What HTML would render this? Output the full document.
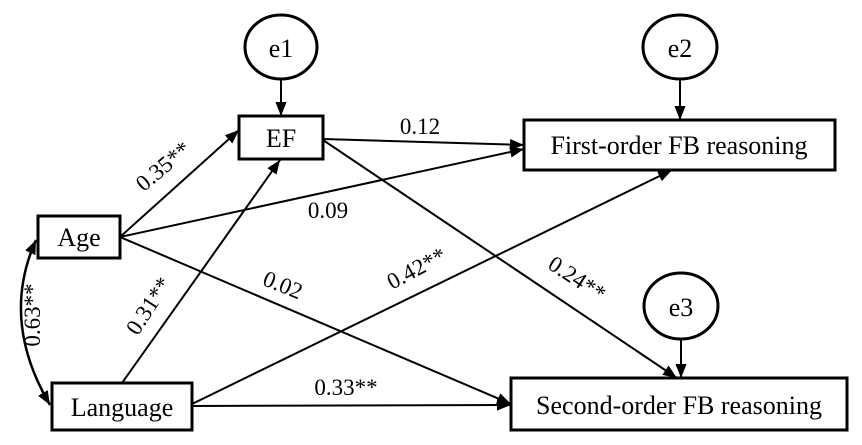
<!DOCTYPE html>
<html><head><style>body{margin:0;background:#fff}svg{display:block}</style></head><body>
<svg width="862" height="445" viewBox="0 0 862 445" xmlns="http://www.w3.org/2000/svg" fill="none" stroke="#000" style="font-family:'Liberation Serif','Times New Roman',Times,'DejaVu Serif',serif">
<defs>
<marker id="b" viewBox="0 0 10 10" refX="10" refY="5" markerWidth="14" markerHeight="14" markerUnits="userSpaceOnUse" orient="auto-start-reverse"><path d="M0,1L10,5L0,9z" fill="#000" stroke="none"/></marker></defs>
<g stroke-width="2" marker-end="url(#b)">
<line x1="281" y1="80" x2="281" y2="116"/>
<line x1="680" y1="80" x2="680" y2="120"/>
<line x1="681" y1="340" x2="681" y2="378"/>
<line x1="120" y1="237" x2="239" y2="130"/>
<line x1="122" y1="383" x2="280" y2="160"/>
<line x1="323" y1="139" x2="524" y2="145"/>
<line x1="120" y1="237" x2="524" y2="149"/>
<line x1="323" y1="140" x2="677" y2="378"/>
<line x1="120" y1="237" x2="511" y2="404"/>
<line x1="192" y1="404" x2="672" y2="170"/>
<line x1="192" y1="406" x2="511" y2="405"/>
</g>
<path d="M36,240 Q0,320 50,405" stroke-width="2.5" marker-start="url(#b)" marker-end="url(#b)"/>
<g stroke-width="3" fill="#fff">
<ellipse cx="281" cy="47" rx="36" ry="32"/>
<ellipse cx="680" cy="47" rx="37" ry="32"/>
<ellipse cx="681" cy="306" rx="37" ry="33"/>
<rect x="239" y="116" width="84" height="43"/>
<rect x="38" y="216" width="82" height="42"/>
<rect x="52" y="383" width="140" height="47"/>
<rect x="524" y="120" width="311" height="50"/>
<rect x="511" y="378" width="336" height="52"/>
</g>
<g fill="#000" stroke="none" font-size="26" text-anchor="middle">
<text x="281" y="57">e1</text><text x="680" y="57">e2</text><text x="681" y="316">e3</text>
<text x="281" y="147">EF</text><text x="79" y="246">Age</text><text x="122" y="416">Language</text>
<text x="679" y="154">First-order FB reasoning</text><text x="679" y="414">Second-order FB reasoning</text>
</g>
<g fill="#000" stroke="none" font-size="23" text-anchor="middle">
<text transform="translate(168,172) rotate(-40)">0.35**</text>
<text x="328" y="218">0.09</text>
<text x="420" y="134">0.12</text>
<text transform="translate(280,292) rotate(22)">0.02</text>
<text transform="translate(155,310) rotate(-57)">0.31**</text>
<text transform="translate(420,275) rotate(-28)">0.42**</text>
<text transform="translate(573,285) rotate(33)">0.24**</text>
<text x="346" y="395">0.33**</text>
<text transform="translate(40,315) rotate(-90)">0.63**</text>
</g>
</svg>
</body></html>
